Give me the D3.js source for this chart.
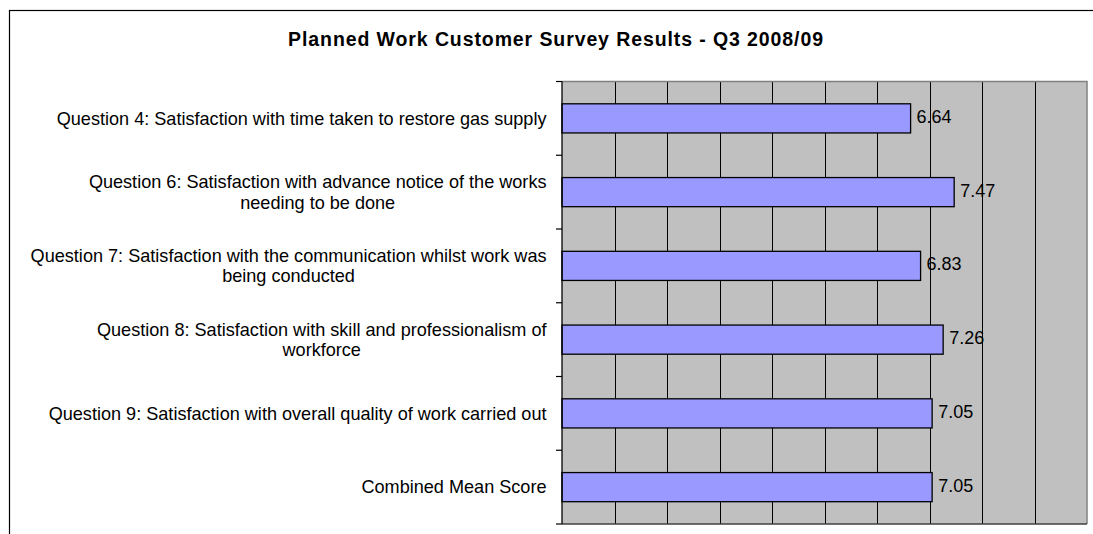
<!DOCTYPE html>
<html>
<head>
<meta charset="utf-8">
<script src="https://cdn.jsdelivr.net/npm/d3@7"></script>
<style>
  html, body { margin: 0; padding: 0; background: #fff; }
  svg { display: block; font-family: "Liberation Sans", Arial, sans-serif; }
</style>
</head>
<body>
<svg id="chart" width="1093" height="534"></svg>
<script>
const title = "Planned Work Customer Survey Results - Q3 2008/09";
const categories = [
  "Question 4: Satisfaction with time taken to restore gas supply",
  "Question 6: Satisfaction with advance notice of the works\nneeding to be done",
  "Question 7: Satisfaction with the communication whilst work was\nbeing conducted",
  "Question 8: Satisfaction with skill and professionalism of\nworkforce",
  "Question 9: Satisfaction with overall quality of work carried out",
  "Combined Mean Score"
];
const values = [6.64, 7.47, 6.83, 7.26, 7.05, 7.05];
const valueLabels = ["6.64", "7.47", "6.83", "7.26", "7.05", "7.05"];
const xDomain = [0, 10];
const gridTicks = [1, 2, 3, 4, 5, 6, 7, 8, 9];

const svg = d3.select("#chart");
const W = 1093, H = 534;
const plot = { left: 562, right: 1087, top: 81.5, bottom: 524 };

// outer chart frame (extends beyond the visible window)
svg.append("rect")
  .attr("x", 9.5).attr("y", 10.5)
  .attr("width", W + 20).attr("height", H + 20)
  .attr("fill", "#fff").attr("stroke", "#000").attr("stroke-width", 1.2);

// title
svg.append("text")
  .attr("x", 556).attr("y", 46)
  .attr("text-anchor", "middle")
  .attr("font-weight", "bold")
  .attr("font-size", "19.5px")
  .attr("letter-spacing", "0.9px")
  .attr("fill", "#000")
  .text(title);

const x = d3.scaleLinear().domain(xDomain).range([plot.left, plot.right]);
const y = d3.scaleBand().domain(categories).range([plot.top, plot.bottom]).padding(0);

// plot area
svg.append("rect")
  .attr("x", plot.left).attr("y", plot.top)
  .attr("width", plot.right - plot.left).attr("height", plot.bottom - plot.top)
  .attr("fill", "#c0c0c0");

// vertical gridlines
svg.append("g").selectAll("line").data(gridTicks).join("line")
  .attr("x1", d => Math.round(x(d)) + 0.5).attr("x2", d => Math.round(x(d)) + 0.5)
  .attr("y1", plot.top).attr("y2", plot.bottom)
  .attr("stroke", "#000").attr("stroke-width", 1);

// plot border (top & right, gray)
svg.append("path")
  .attr("d", `M${plot.left},${plot.top}H${plot.right}V${plot.bottom}`)
  .attr("fill", "none").attr("stroke", "#808080").attr("stroke-width", 1.5);

// bars
const bw = y.bandwidth();
const barH = bw * 0.395;
svg.append("g").selectAll("rect").data(categories).join("rect")
  .attr("x", x(0))
  .attr("y", d => y(d) + (bw - barH) / 2)
  .attr("width", (d, i) => x(values[i]) - x(0))
  .attr("height", barH)
  .attr("fill", "#9999ff")
  .attr("stroke", "#000").attr("stroke-width", 1.3);

// bottom axis line
svg.append("line")
  .attr("x1", plot.left).attr("x2", plot.right)
  .attr("y1", plot.bottom).attr("y2", plot.bottom)
  .attr("stroke", "#404040").attr("stroke-width", 1.3);

// category axis (left) with ticks at band boundaries
const boundaries = categories.map(c => y(c)).concat([plot.bottom]);
const axisG = svg.append("g");
axisG.append("line")
  .attr("x1", plot.left).attr("x2", plot.left)
  .attr("y1", plot.top).attr("y2", plot.bottom)
  .attr("stroke", "#000").attr("stroke-width", 1.3);
axisG.selectAll("line.tick").data(boundaries).join("line")
  .attr("class", "tick")
  .attr("x1", plot.left - 6).attr("x2", plot.left)
  .attr("y1", d => d).attr("y2", d => d)
  .attr("stroke", "#000").attr("stroke-width", 1.2);

// category labels: block right-aligned, lines centered in block
const labelRight = 546.5;
const lineH = 20.5;
categories.forEach(c => {
  const lines = c.split("\n");
  const g = svg.append("g");
  const cy = y(c) + bw / 2;
  const texts = lines.map((ln, k) => g.append("text")
    .attr("font-size", "18.1px")
    .attr("fill", "#000")
    .attr("text-anchor", "middle")
    .attr("y", cy + (k - (lines.length - 1) / 2) * lineH + 6.3)
    .text(ln));
  const maxW = d3.max(texts, t => t.node().getComputedTextLength());
  texts.forEach(t => t.attr("x", labelRight - maxW / 2));
});

// value labels
svg.append("g").selectAll("text").data(categories).join("text")
  .attr("x", (d, i) => x(values[i]) + 6)
  .attr("y", d => y(d) + bw / 2 + 4.5)
  .attr("font-size", "18px")
  .attr("fill", "#000")
  .text((d, i) => valueLabels[i]);
</script>
</body>
</html>
